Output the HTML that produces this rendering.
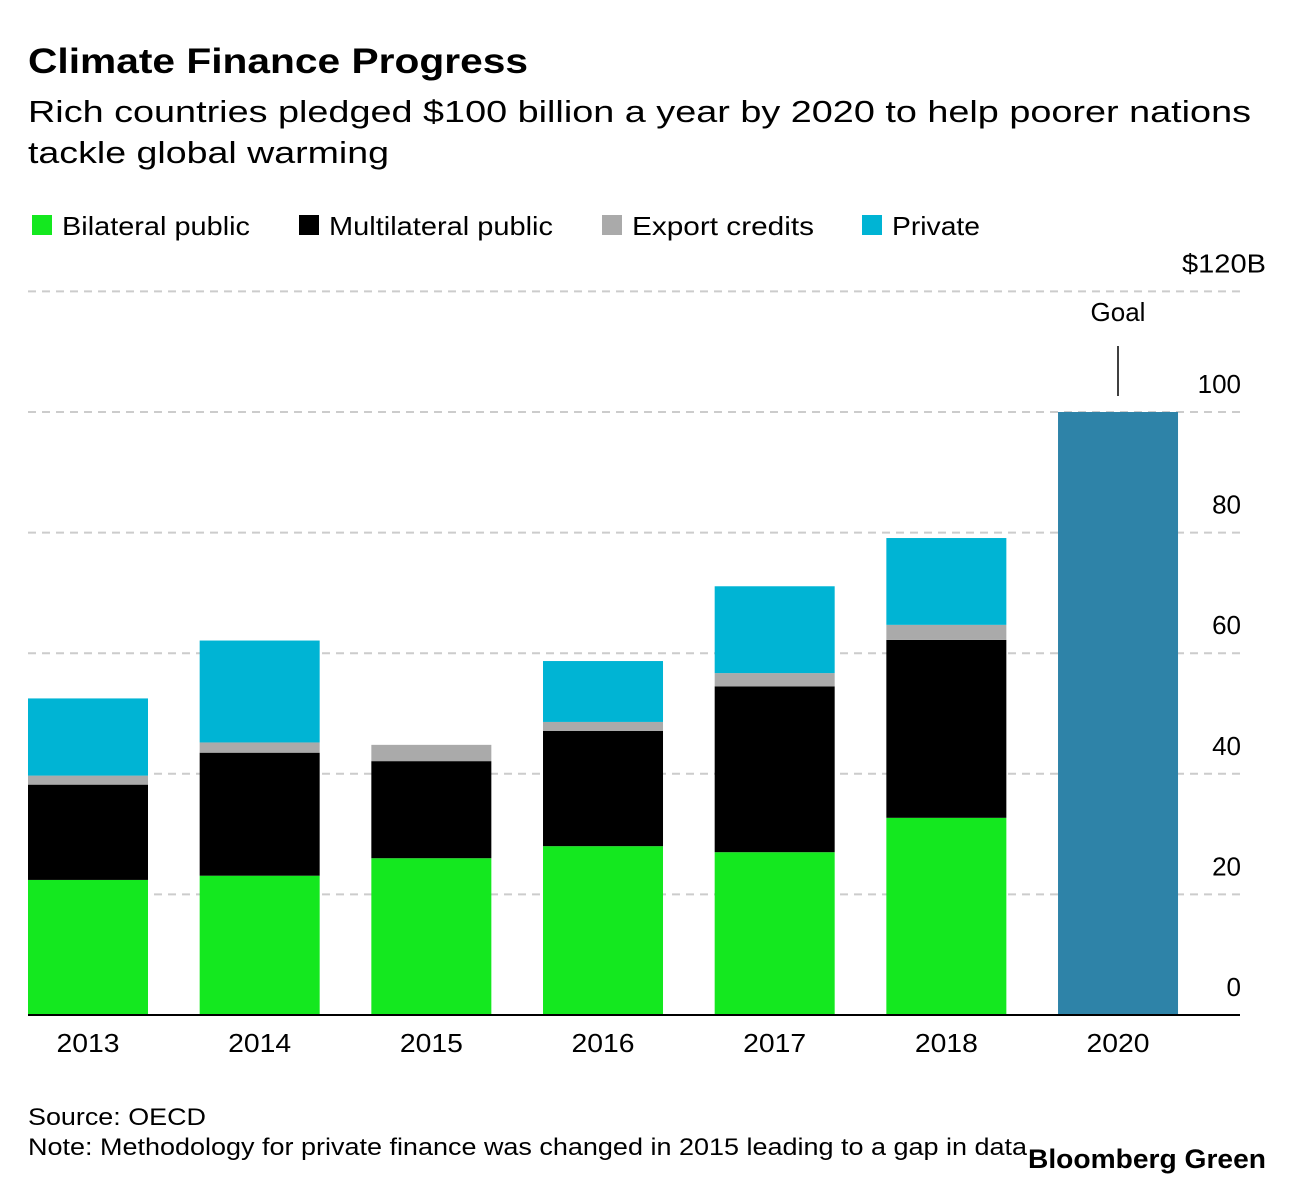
<!DOCTYPE html>
<html><head><meta charset="utf-8"><style>
body{margin:0;background:#fff;font-family:"Liberation Sans",sans-serif;}
</style></head><body>
<svg width="1296" height="1186" xmlns="http://www.w3.org/2000/svg" font-family="Liberation Sans, sans-serif">
<text x="28" y="73" font-size="35" font-weight="bold" fill="#000" textLength="500" lengthAdjust="spacingAndGlyphs">Climate Finance Progress</text>
<text x="28" y="122" font-size="31" fill="#000" textLength="1223" lengthAdjust="spacingAndGlyphs">Rich countries pledged $100 billion a year by 2020 to help poorer nations</text>
<text x="28" y="163" font-size="31" fill="#000" textLength="361" lengthAdjust="spacingAndGlyphs">tackle global warming</text>
<g font-size="26">
<rect x="32" y="215" width="20" height="20" fill="#14e81f"/>
<text x="62" y="235" textLength="188" lengthAdjust="spacingAndGlyphs">Bilateral public</text>
<rect x="299" y="215" width="20" height="20" fill="#000"/>
<text x="329" y="235" textLength="224" lengthAdjust="spacingAndGlyphs">Multilateral public</text>
<rect x="602" y="215" width="20" height="20" fill="#aaa"/>
<text x="632" y="235" textLength="182" lengthAdjust="spacingAndGlyphs">Export credits</text>
<rect x="862" y="215" width="20" height="20" fill="#00b4d4"/>
<text x="892" y="235" textLength="88" lengthAdjust="spacingAndGlyphs">Private</text>
</g>
<g id="grid"></g>
<g id="bars"></g>
<g id="labels"></g>
<text x="1118" y="321" font-size="26" text-anchor="middle">Goal</text>
<line x1="1118" y1="346" x2="1118" y2="396" stroke="#000" stroke-width="1.5"/>
<line x1="28" y1="1015" x2="1240" y2="1015" stroke="#000" stroke-width="2"/>
<text x="28" y="1125" font-size="24" textLength="178" lengthAdjust="spacingAndGlyphs">Source: OECD</text>
<text x="28" y="1155" font-size="24" textLength="999" lengthAdjust="spacingAndGlyphs">Note: Methodology for private finance was changed in 2015 leading to a gap in data</text>
<text x="1028" y="1168" font-size="27" font-weight="bold" textLength="238" lengthAdjust="spacingAndGlyphs">Bloomberg Green</text>
</svg>
<script>
const years=["2013","2014","2015","2016","2017","2018","2020"];
const bilateral=[22.4,23.1,26.0,28.0,27.0,32.7,0];
const multilateral=[15.8,20.4,16.1,19.1,27.5,29.5,0];
const exportCredits=[1.5,1.7,2.7,1.5,2.2,2.5,0];
const privateFin=[12.8,16.9,0,10.1,14.4,14.4,0];
const goal=[0,0,0,0,0,0,100];
const ticks=[0,20,40,60,80,100,120];
const tickLabels=["0","20","40","60","80","100","$120B"];
const NS="http://www.w3.org/2000/svg";
function y(v){return 1015-v*6.03;}
function x(i){return 28+i*171.67;}
const bw=120;
const grid=document.getElementById('grid'),bars=document.getElementById('bars'),labels=document.getElementById('labels');
ticks.forEach((t,i)=>{
  if(t>0){const l=document.createElementNS(NS,'line');
  l.setAttribute('x1',28);l.setAttribute('x2',1240);l.setAttribute('y1',y(t));l.setAttribute('y2',y(t));
  l.setAttribute('stroke','#ccc');l.setAttribute('stroke-width','2');l.setAttribute('stroke-dasharray','8,6');
  
  
  grid.appendChild(l);}
  const tx=document.createElementNS(NS,'text');
  tx.setAttribute('x',t===120?1266:1241);tx.setAttribute('y',y(t)-19);tx.setAttribute('text-anchor','end');tx.setAttribute('font-size','26');
  if(t===120){tx.setAttribute('textLength','84');tx.setAttribute('lengthAdjust','spacingAndGlyphs');}
  tx.textContent=tickLabels[i];
  
  
  labels.appendChild(tx);
});
const series=[[bilateral,'#14e81f','bilateral'],[multilateral,'#000','multilateral'],[exportCredits,'#aaa','export-credits'],[privateFin,'#00b4d4','private'],[goal,'#2e83a8','goal']];
years.forEach((yr,i)=>{
  let base=0;
  series.forEach(([arr,col,nm])=>{
    const v=arr[i];if(v<=0)return;
    const r=document.createElementNS(NS,'rect');
    r.setAttribute('x',x(i));r.setAttribute('width',bw);r.setAttribute('y',y(base+v));r.setAttribute('height',y(base)-y(base+v));r.setAttribute('fill',col);
    
    
    bars.appendChild(r);base+=v;
  });
  const t=document.createElementNS(NS,'text');
  t.setAttribute('x',x(i)+bw/2);t.setAttribute('y',1052);t.setAttribute('text-anchor','middle');t.setAttribute('font-size','26');
  t.setAttribute('textLength','63');t.setAttribute('lengthAdjust','spacingAndGlyphs');
  t.textContent=yr;
  
  
  labels.appendChild(t);
});
</script>
</body></html>
